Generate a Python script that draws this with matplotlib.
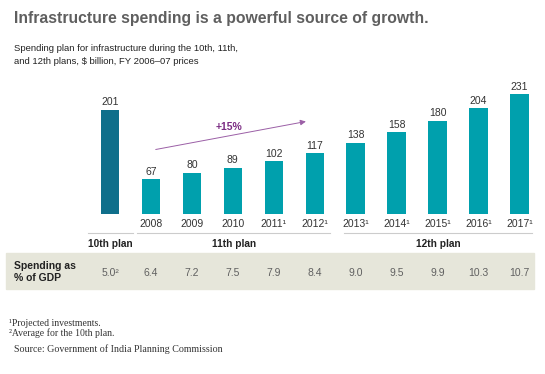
import matplotlib.pyplot as plt
from matplotlib import transforms

plt.rcParams['font.family'] = ['Liberation Sans', 'DejaVu Sans']

# data
years = ['', '2008', '2009', '2010', '2011¹', '2012¹', '2013¹', '2014¹', '2015¹', '2016¹', '2017¹']
spending = [201, 67, 80, 89, 102, 117, 138, 158, 180, 204, 231]
gdp_share = ['5.0²', '6.4', '7.2', '7.5', '7.9', '8.4', '9.0', '9.5', '9.9', '10.3', '10.7']
plans = ['10th plan', '11th plan', '12th plan']
plan_spans = [(-0.54, 0.56), (0.66, 5.38), (5.72, 10.3)]

W, H = 545, 374
DARK = '#0f6f8b'
TEAL = '#00a0ad'


def fy(p):
    return 1 - p / H


def fx(p):
    return p / W


fig = plt.figure(figsize=(W / 100, H / 100), dpi=100)
ax = fig.add_axes([fx(89.5), fy(214), fx(450.5), 124.3 / H])
ax.set_xlim(-0.5, 10.5)
ax.set_ylim(0, 240)
ax.axis('off')

idx = list(range(len(spending)))
colors = [DARK] + [TEAL] * (len(spending) - 1)
ax.bar(idx, spending, width=0.45, color=colors)
for i, v in zip(idx, spending):
    ax.text(i, v + 5, str(v), ha='center', va='bottom', fontsize=7.5, color='#333333')

tr = transforms.blended_transform_factory(ax.transData, fig.transFigure)

# year labels
for i, y in zip(idx, years):
    ax.text(i, fy(224), y, transform=tr, ha='center', va='center', fontsize=7.5, color='#333333')

# plan lines and labels
for name, (a, b) in zip(plans, plan_spans):
    ax.plot([a, b], [fy(233), fy(233)], transform=tr, color='#cccccc', lw=0.8, clip_on=False)
    ax.text((a + b) / 2, fy(244), name, transform=tr, ha='center', va='center',
            fontsize=7.3, fontweight='bold', color='#222222')

# growth arrow
ax.annotate('', xy=(4.85, fy(121)), xytext=(1.05, fy(150)),
            xycoords=tr, textcoords=tr,
            arrowprops=dict(arrowstyle='-|>', color='#9b5fa6', lw=0.7, mutation_scale=8))
ax.text(2.9, fy(127), '+15%', transform=tr, ha='center', va='center',
        fontsize=7.5, fontweight='bold', color='#7b2c83')

# GDP table band
band = plt.Rectangle((fx(6), fy(289)), fx(528), 36 / H,
                     transform=fig.transFigure, color='#e6e6da', zorder=-5)
fig.patches.append(band)
fig.text(fx(14), fy(272), 'Spending as\n% of GDP', ha='left', va='center',
         fontsize=7.5, fontweight='bold', color='#222222', linespacing=1.15)
for i, g in zip(idx, gdp_share):
    ax.text(i, fy(273), g, transform=tr, ha='center', va='center', fontsize=7.5, color='#606060')

# title and subtitle
fig.text(fx(14), fy(19), 'Infrastructure spending is a powerful source of growth.',
         ha='left', va='center', fontsize=11.3, fontweight='bold', color='#5f5f5f')
fig.text(fx(14), fy(55), 'Spending plan for infrastructure during the 10th, 11th,\nand 12th plans, $ billion, FY 2006–07 prices',
         ha='left', va='center', fontsize=6.8, color='#222222', linespacing=1.5)

# footnotes
serif = 'Liberation Serif'
fig.text(fx(9), fy(323), '¹Projected investments.', ha='left', va='center',
         fontsize=7, family=serif, color='#333333')
fig.text(fx(9), fy(333.5), '²Average for the 10th plan.', ha='left', va='center',
         fontsize=7, family=serif, color='#333333')
fig.text(fx(14), fy(349), 'Source: Government of India Planning Commission', ha='left', va='center',
         fontsize=7.2, family=serif, color='#333333')

fig.savefig('out.png', dpi=100)
